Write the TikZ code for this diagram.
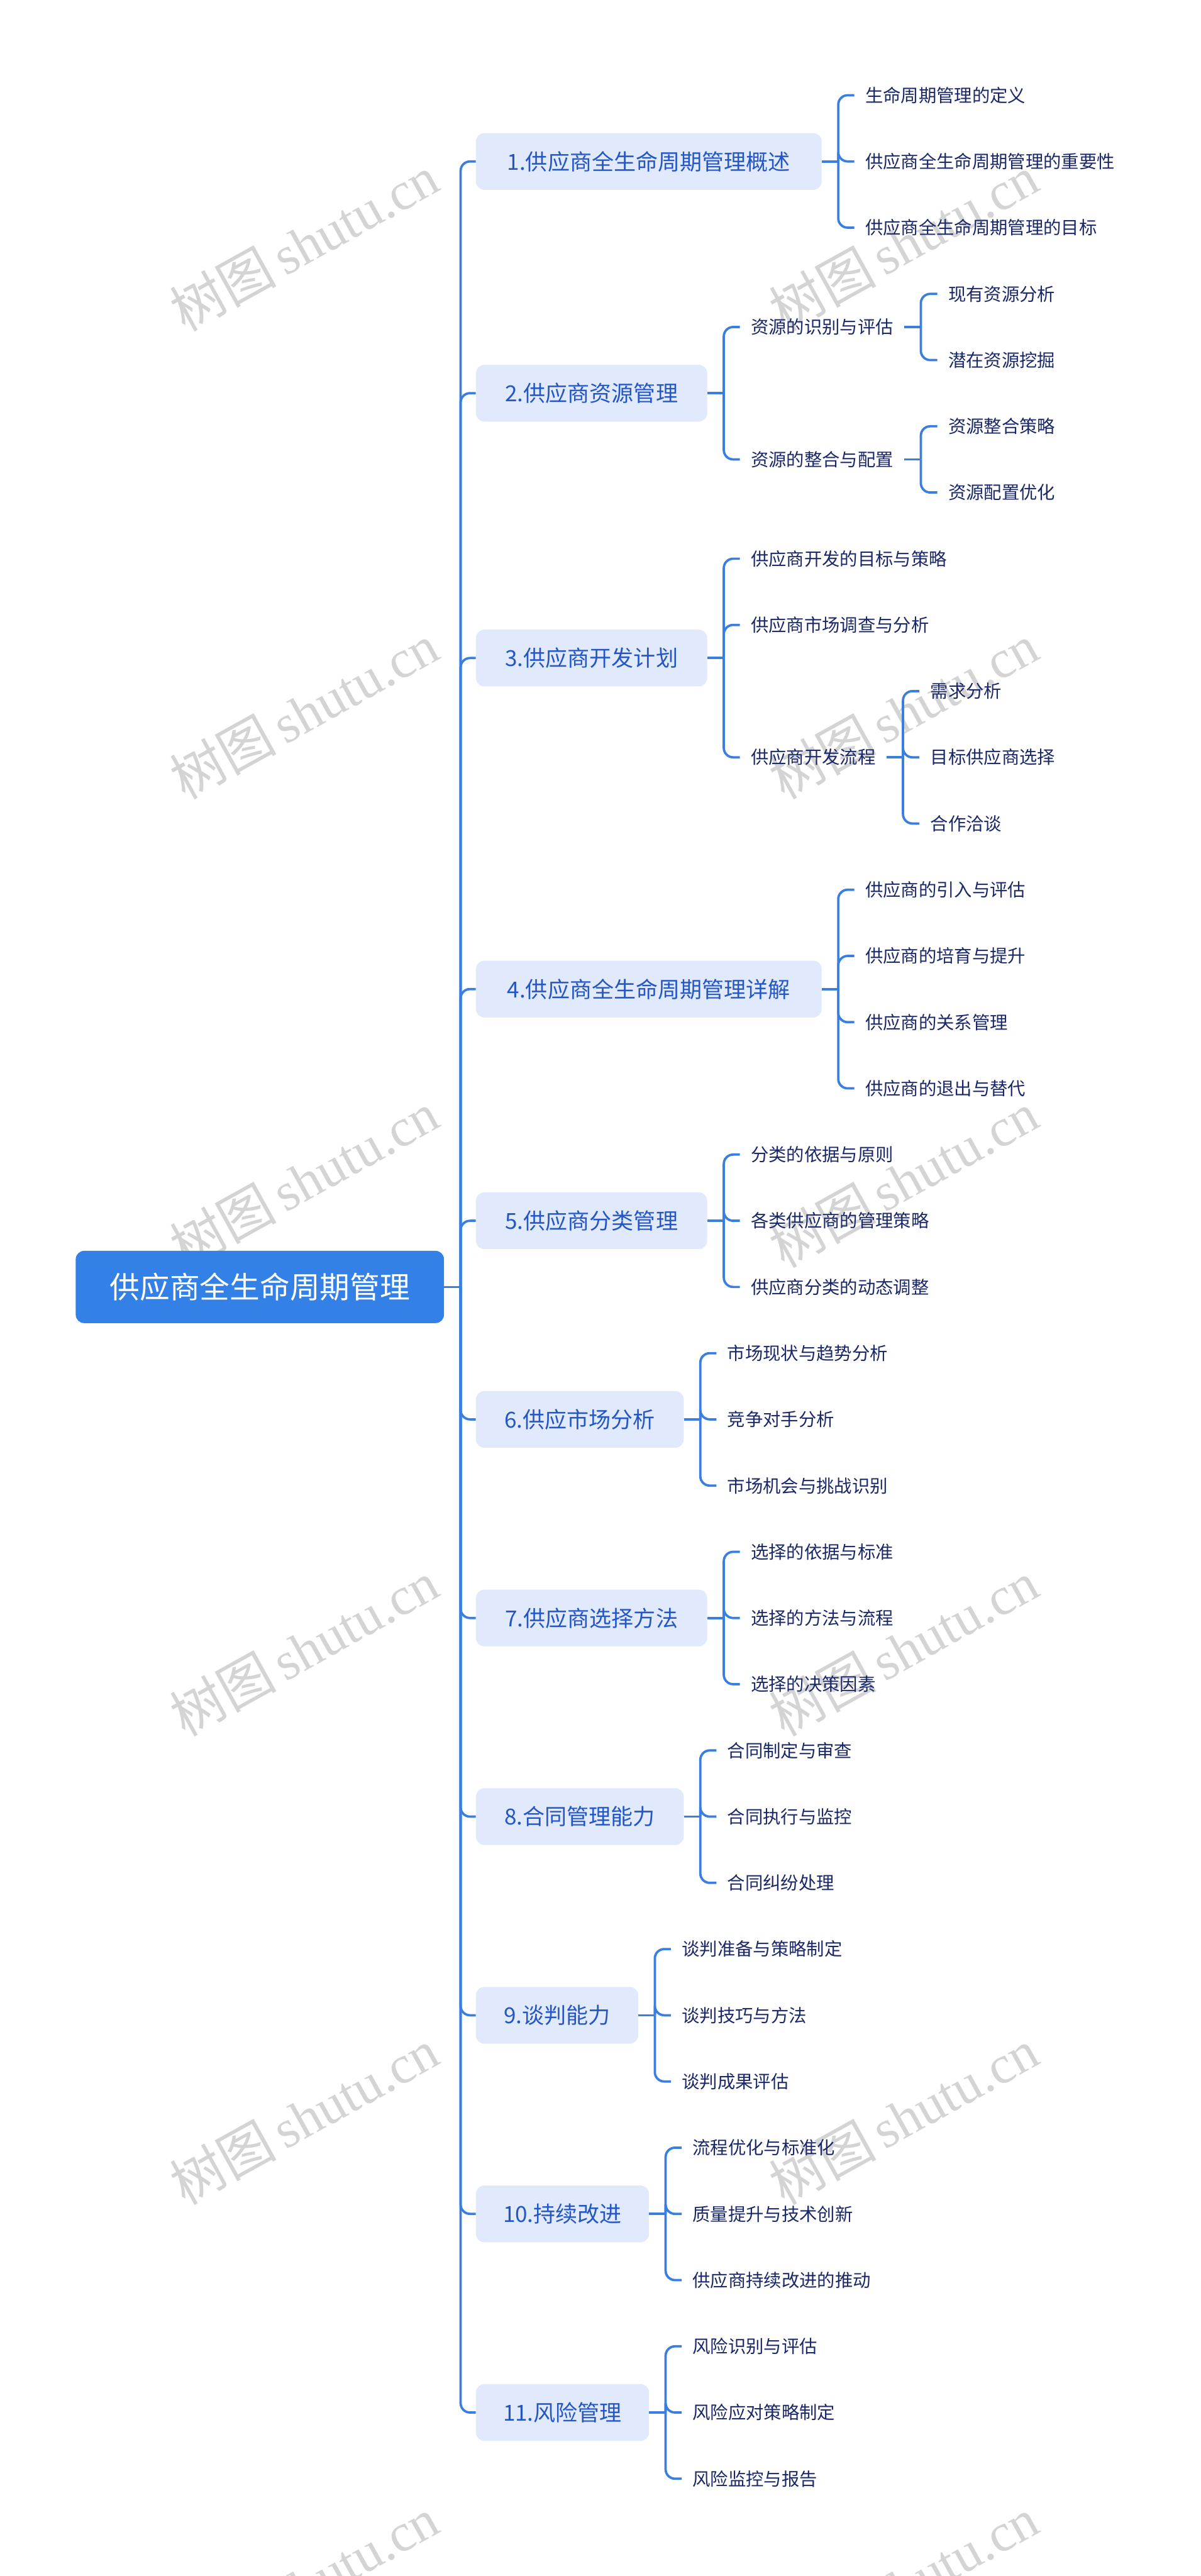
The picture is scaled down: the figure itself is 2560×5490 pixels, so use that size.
\documentclass[tikz,border=0pt]{standalone}
\usepackage{fontspec}
\setmainfont{Noto Sans CJK SC}
\newfontfamily\wmserif{Liberation Serif}
\usetikzlibrary{calc}
\definecolor{rootblue}{HTML}{3381E7}
\definecolor{boxfill}{HTML}{E1E9FC}
\definecolor{boxtext}{HTML}{2456C6}
\definecolor{leaftext}{HTML}{1A2869}
\definecolor{linkblue}{HTML}{3A7FE0}
\definecolor{wmgray}{HTML}{D4D4D4}
\tikzset{
  rootbox/.style={draw=none,fill=rootblue,text=white,rounded corners=9pt,
    font={\fontsize{32pt}{36pt}\selectfont},minimum width=392.5pt,minimum height=77pt,
    inner xsep=0pt,anchor=west},
  branchbox/.style={draw=none,fill=boxfill,text=boxtext,rounded corners=9pt,
    font={\fontsize{23.5pt}{26pt}\selectfont},minimum height=60.5pt,inner xsep=0pt,anchor=west},
  leaf/.style={text=leaftext,font={\fontsize{19pt}{22pt}\selectfont},inner xsep=11.5pt,
    inner ysep=2pt,anchor=west},
  conn/.style={draw=linkblue,line width=2.5pt},
  wm/.style={text=wmgray,rotate=29,inner sep=0pt,font={\fontsize{57pt}{60pt}\selectfont}}
}
\newcommand\mmlink[2]{%
  \path (#1.east) ++(17.5pt,0) coordinate (#1-j);
  \draw[conn] (#1.east) -- (#1-j);
  \draw[conn,rounded corners=10pt] (#1-j) |- (#2.west);
}
\newcommand\wmark[2]{\node[wm] at (#1,#2) {树图\hspace{0.15em}{\wmserif shutu.cn}};}
\begin{document}
\begin{tikzpicture}[x=0.5pt,y=-0.5pt]
\useasboundingbox (0,0) rectangle (2560,5490);
\fill[white] (0,0) rectangle (2560,5490);
% watermarks
\wmark{648}{518}\wmark{1926}{518}
\wmark{648}{1516}\wmark{1926}{1516}
\wmark{648}{2514}\wmark{1926}{2514}
\wmark{648}{3513}\wmark{1926}{3513}
\wmark{648}{4511}\wmark{1926}{4511}
\wmark{648}{5509}\wmark{1926}{5509}
% root
\node[rootbox] (root) at (161,2742.8) {供应商全生命周期管理};
% branches
\node[branchbox,minimum width=368.5pt] (b1) at (1014,344.1) {1.供应商全生命周期管理概述};
\node[branchbox,minimum width=246.5pt] (b2) at (1014,837.9) {2.供应商资源管理};
\node[branchbox,minimum width=246.5pt] (b3) at (1014,1402.4) {3.供应商开发计划};
\node[branchbox,minimum width=368.5pt] (b4) at (1014,2107.9) {4.供应商全生命周期管理详解};
\node[branchbox,minimum width=246.5pt] (b5) at (1014,2601.7) {5.供应商分类管理};
\node[branchbox,minimum width=221.5pt] (b6) at (1014,3025) {6.供应市场分析};
\node[branchbox,minimum width=246.5pt] (b7) at (1014,3448.3) {7.供应商选择方法};
\node[branchbox,minimum width=221.5pt] (b8) at (1014,3871.6) {8.合同管理能力};
\node[branchbox,minimum width=173pt] (b9) at (1014,4294.9) {9.谈判能力};
\node[branchbox,minimum width=184.5pt] (b10) at (1014,4718.2) {10.持续改进};
\node[branchbox,minimum width=184.5pt] (b11) at (1014,5141.5) {11.风险管理};
% branch 1
\node[leaf] (b1a) at (1821,203) {生命周期管理的定义};
\node[leaf] (b1b) at (1821,344.1) {供应商全生命周期管理的重要性};
\node[leaf] (b1c) at (1821,485.2) {供应商全生命周期管理的目标};
% branch 2
\node[leaf] (b2a) at (1577,696.9) {资源的识别与评估};
\node[leaf] (b2b) at (1577,979.1) {资源的整合与配置};
\coordinate (b2ax) at ([xshift=35pt]b2a.east);
\coordinate (b2bx) at ([xshift=35pt]b2b.east);
\node[leaf] (b2a1) at (b2ax |- 0,626.3) {现有资源分析};
\node[leaf] (b2a2) at (b2ax |- 0,767.4) {潜在资源挖掘};
\node[leaf] (b2b1) at (b2bx |- 0,908.5) {资源整合策略};
\node[leaf] (b2b2) at (b2bx |- 0,1049.6) {资源配置优化};
% branch 3
\node[leaf] (b3a) at (1577,1190.7) {供应商开发的目标与策略};
\node[leaf] (b3b) at (1577,1331.8) {供应商市场调查与分析};
\node[leaf] (b3c) at (1577,1614) {供应商开发流程};
\coordinate (b3cx) at ([xshift=35pt]b3c.east);
\node[leaf] (b3c1) at (b3cx |- 0,1472.9) {需求分析};
\node[leaf] (b3c2) at (b3cx |- 0,1614) {目标供应商选择};
\node[leaf] (b3c3) at (b3cx |- 0,1755.1) {合作洽谈};
% branch 4
\node[leaf] (b4a) at (1821,1896.2) {供应商的引入与评估};
\node[leaf] (b4b) at (1821,2037.3) {供应商的培育与提升};
\node[leaf] (b4c) at (1821,2178.4) {供应商的关系管理};
\node[leaf] (b4d) at (1821,2319.5) {供应商的退出与替代};
% branch 5
\node[leaf] (b5a) at (1577,2460.6) {分类的依据与原则};
\node[leaf] (b5b) at (1577,2601.7) {各类供应商的管理策略};
\node[leaf] (b5c) at (1577,2742.8) {供应商分类的动态调整};
% branch 6
\node[leaf] (b6a) at (1527,2883.9) {市场现状与趋势分析};
\node[leaf] (b6b) at (1527,3025) {竞争对手分析};
\node[leaf] (b6c) at (1527,3166.1) {市场机会与挑战识别};
% branch 7
\node[leaf] (b7a) at (1577,3307.2) {选择的依据与标准};
\node[leaf] (b7b) at (1577,3448.3) {选择的方法与流程};
\node[leaf] (b7c) at (1577,3589.4) {选择的决策因素};
% branch 8
\node[leaf] (b8a) at (1527,3730.5) {合同制定与审查};
\node[leaf] (b8b) at (1527,3871.6) {合同执行与监控};
\node[leaf] (b8c) at (1527,4012.7) {合同纠纷处理};
% branch 9
\node[leaf] (b9a) at (1430,4153.8) {谈判准备与策略制定};
\node[leaf] (b9b) at (1430,4294.9) {谈判技巧与方法};
\node[leaf] (b9c) at (1430,4436) {谈判成果评估};
% branch 10
\node[leaf] (b10a) at (1453,4577.1) {流程优化与标准化};
\node[leaf] (b10b) at (1453,4718.2) {质量提升与技术创新};
\node[leaf] (b10c) at (1453,4859.3) {供应商持续改进的推动};
% branch 11
\node[leaf] (b11a) at (1453,5000.4) {风险识别与评估};
\node[leaf] (b11b) at (1453,5141.5) {风险应对策略制定};
\node[leaf] (b11c) at (1453,5282.6) {风险监控与报告};
% connectors
\foreach \b in {b1,b2,b3,b4,b5,b6,b7,b8,b9,b10,b11}{\mmlink{root}{\b}}
\foreach \c in {b1a,b1b,b1c}{\mmlink{b1}{\c}}
\foreach \c in {b2a,b2b}{\mmlink{b2}{\c}}
\foreach \c in {b2a1,b2a2}{\mmlink{b2a}{\c}}
\foreach \c in {b2b1,b2b2}{\mmlink{b2b}{\c}}
\foreach \c in {b3a,b3b,b3c}{\mmlink{b3}{\c}}
\foreach \c in {b3c1,b3c2,b3c3}{\mmlink{b3c}{\c}}
\foreach \c in {b4a,b4b,b4c,b4d}{\mmlink{b4}{\c}}
\foreach \c in {b5a,b5b,b5c}{\mmlink{b5}{\c}}
\foreach \c in {b6a,b6b,b6c}{\mmlink{b6}{\c}}
\foreach \c in {b7a,b7b,b7c}{\mmlink{b7}{\c}}
\foreach \c in {b8a,b8b,b8c}{\mmlink{b8}{\c}}
\foreach \c in {b9a,b9b,b9c}{\mmlink{b9}{\c}}
\foreach \c in {b10a,b10b,b10c}{\mmlink{b10}{\c}}
\foreach \c in {b11a,b11b,b11c}{\mmlink{b11}{\c}}
\end{tikzpicture}
\end{document}
